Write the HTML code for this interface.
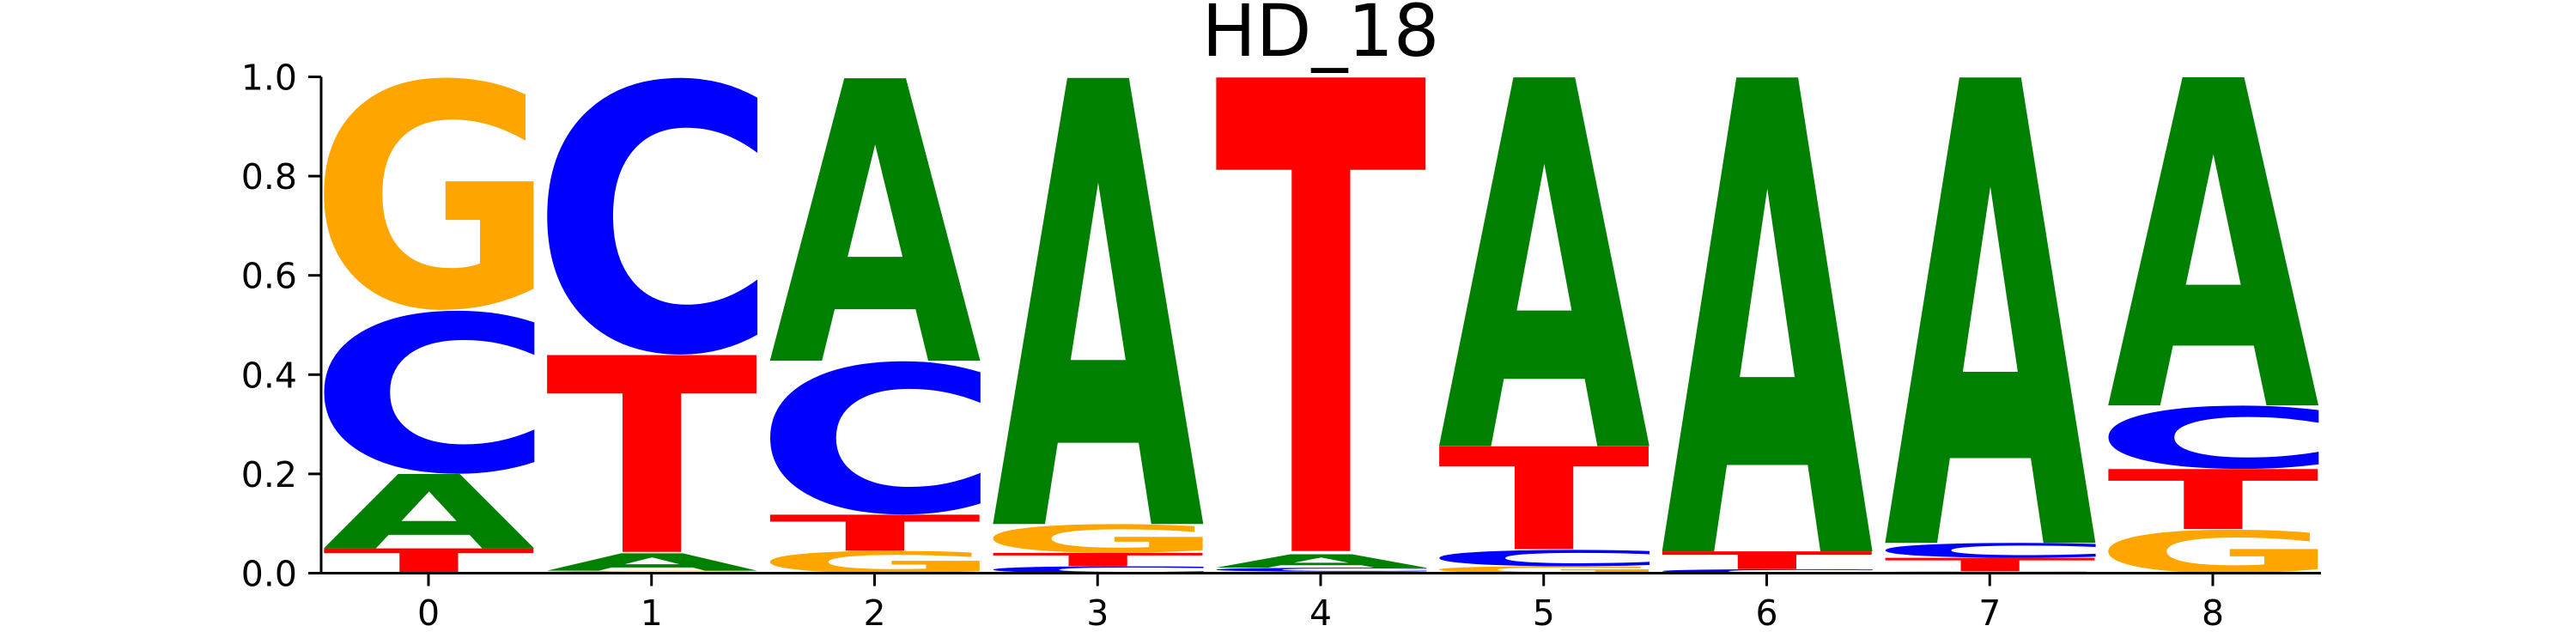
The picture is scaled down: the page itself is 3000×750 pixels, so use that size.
<!DOCTYPE html>
<html><head><meta charset="utf-8"><style>
html,body{margin:0;padding:0;background:#fff;width:3000px;height:750px;overflow:hidden;}
svg{display:block;overflow:hidden;}
text{font-family:"DejaVu Sans","Liberation Sans",sans-serif;}
</style></head><body>
<svg id="chart" width="3000" height="750" viewBox="0 0 3000 750" xmlns="http://www.w3.org/2000/svg">
<defs><clipPath id="plotclip"><rect x="0" y="0" width="3000" height="668"/></clipPath></defs>
<text x="1538" y="65" font-size="84" text-anchor="middle" fill="#000">HD_18</text>
<g id="letters" clip-path="url(#plotclip)"></g>
<g id="axes"></g>
</svg>
<script>
const positions = [0,1,2,3,4,5,6,7,8];
const bases = ['A','C','G','T'];
const colors = {A:'#008000',C:'#0000ff',G:'#ffa500',T:'#ff0000'};
const valA = [0.15, 0.035, 0.57, 0.90, 0.027, 0.744, 0.956, 0.939, 0.662];
const valC = [0.33, 0.56, 0.31, 0.014, 0.008, 0.033, 0.008, 0.030, 0.128];
const valG = [0.47, 0.005, 0.045, 0.058, 0.003, 0.014, 0.0, 0.004, 0.088];
const valT = [0.05, 0.40, 0.073, 0.027, 0.962, 0.209, 0.036, 0.027, 0.122];
const yTicks = [0.0,0.2,0.4,0.6,0.8,1.0];
const yTickLabels = ['0.0','0.2','0.4','0.6','0.8','1.0'];
const xTickLabels = ['0','1','2','3','4','5','6','7','8'];

const NS='http://www.w3.org/2000/svg';
const X0=499, XSTEP=259.75, Y0=667.5, YUNIT=578;
function xs(p){return X0+p*XSTEP;}
function ys(v){return Y0-v*YUNIT;}
const lg=document.getElementById('letters');
const ax=document.getElementById('axes');
const cv=document.createElement('canvas').getContext('2d');
const FS=200;
cv.font='bold '+FS+'px "DejaVu Sans", sans-serif';
const metrics={};
bases.forEach(b=>{const m=cv.measureText(b);metrics[b]={l:m.actualBoundingBoxLeft,r:m.actualBoundingBoxRight,a:m.actualBoundingBoxAscent,d:m.actualBoundingBoxDescent};});
const vals={A:valA,C:valC,G:valG,T:valT};
const W=0.95*XSTEP;
positions.forEach((p,i)=>{
  const items=bases.map(b=>({b,v:vals[b][i]})).filter(o=>o.v>0).sort((a,b)=>a.v-b.v);
  let cum=0;
  items.forEach(o=>{
    const m=metrics[o.b];
    const gw=m.l+m.r, gh=m.a+m.d;
    const top=ys(cum+o.v), bot=ys(cum);
    const h=bot-top;
    const sx=W/gw, sy=h/gh;
    const left=xs(p)-W/2;
    const t=document.createElementNS(NS,'text');
    
    
    t.setAttribute('font-size',FS);
    t.setAttribute('font-weight','bold');
    t.setAttribute('fill',colors[o.b]);
    t.setAttribute('transform','translate('+(left+m.l*sx)+','+(top+m.a*sy)+') scale('+sx+','+sy+')');
    t.textContent=o.b;
    lg.appendChild(t);
    cum+=o.v;
  });
});
function line(x1,y1,x2,y2,w,name){
  const l=document.createElementNS(NS,'line');
  l.setAttribute('x1',x1);l.setAttribute('y1',y1);l.setAttribute('x2',x2);l.setAttribute('y2',y2);
  l.setAttribute('stroke','#000');l.setAttribute('stroke-width',w);
  
  
  ax.appendChild(l);
}
line(374,ys(1.0),374,Y0+1.5,3,'y-axis-line');
line(372.5,Y0,2703,Y0,3,'x-axis-line');
yTicks.forEach((v,i)=>{
  line(359,ys(v),374,ys(v),3,'y-tick');
  const t=document.createElementNS(NS,'text');
  
  
  t.setAttribute('x',346);t.setAttribute('y',ys(v)+15);
  t.setAttribute('font-size',41);t.setAttribute('text-anchor','end');
  t.textContent=yTickLabels[i];
  ax.appendChild(t);
});
positions.forEach((p,i)=>{
  line(xs(p),Y0,xs(p),Y0+15,3,'x-tick');
  const t=document.createElementNS(NS,'text');
  
  
  t.setAttribute('x',xs(p));t.setAttribute('y',728);
  t.setAttribute('font-size',41);t.setAttribute('text-anchor','middle');
  t.textContent=xTickLabels[i];
  ax.appendChild(t);
});
</script>
</body></html>
